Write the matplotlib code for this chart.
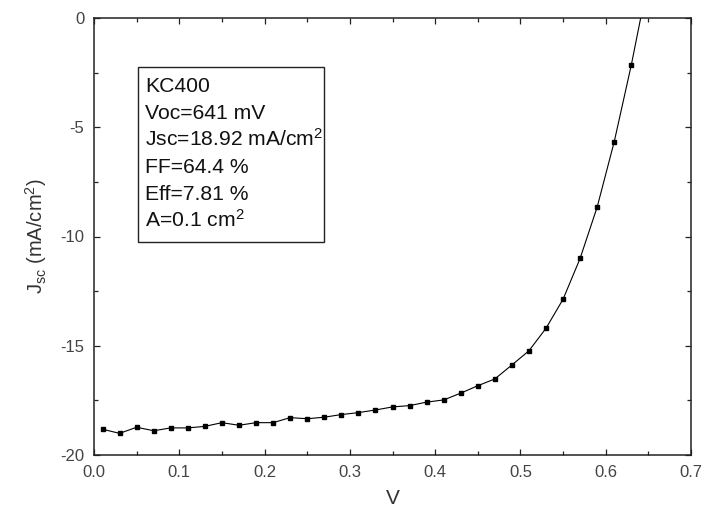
import matplotlib
matplotlib.use("Agg")
import matplotlib.pyplot as plt
from matplotlib.patches import Rectangle
from matplotlib.ticker import MultipleLocator

plt.rcParams['font.family'] = ['Liberation Sans', 'DejaVu Sans']
plt.rcParams['mathtext.fontset'] = 'custom'
plt.rcParams['mathtext.rm'] = 'Liberation Sans'
plt.rcParams['mathtext.it'] = 'Liberation Sans:italic'
plt.rcParams['axes.unicode_minus'] = False

# Measured J-V points (bias in V, current density in mA/cm^2)
voltage = [0.01, 0.03, 0.05, 0.07, 0.09, 0.11, 0.13, 0.15, 0.17, 0.19, 0.21,
           0.23, 0.25, 0.27, 0.29, 0.31, 0.33, 0.35, 0.37, 0.39, 0.41, 0.43,
           0.45, 0.47, 0.49, 0.51, 0.53, 0.55, 0.57, 0.59, 0.61, 0.63]
current = [-18.82, -19.01, -18.73, -18.89, -18.76, -18.76, -18.69, -18.52,
           -18.64, -18.52, -18.52, -18.29, -18.34, -18.27, -18.15, -18.06,
           -17.94, -17.80, -17.74, -17.58, -17.48, -17.17, -16.83, -16.52,
           -15.88, -15.23, -14.20, -12.87, -11.00, -8.65, -5.66, -2.15]

# Device parameters
sample = "KC400"
voc_mv = 641
jsc = 18.92
ff = 64.4
eff = 7.81
area = 0.1

x_ticks = [0.0, 0.1, 0.2, 0.3, 0.4, 0.5, 0.6, 0.7]
y_ticks = [0, -5, -10, -15, -20]

fig = plt.figure(figsize=(7.05, 5.12), dpi=100)
ax = fig.add_axes([94 / 705, 57 / 512, 597 / 705, 437 / 512])

# Curve through the measured points, closing at the open-circuit voltage
line_x = voltage + [voc_mv / 1000.0]
line_y = current + [0.0]
ax.plot(line_x, line_y, color='black', lw=0.8, zorder=2)
ax.plot(voltage, current, ls='none', marker='s', ms=3.4, color='black',
        mec='black', zorder=3)

ax.set_xlim(0.0, 0.7)
ax.set_ylim(-20, 0)
ax.set_xticks(x_ticks)
ax.set_xticklabels([f"{t:.1f}" for t in x_ticks])
ax.set_yticks(y_ticks)
ax.set_yticklabels([f"{t:d}" for t in y_ticks])
ax.xaxis.set_minor_locator(MultipleLocator(0.05))
ax.yaxis.set_minor_locator(MultipleLocator(2.5))

for s in ax.spines.values():
    s.set_linewidth(1.1)
    s.set_color('#222222')

ax.tick_params(which='both', direction='in', top=True, right=True,
               color='#222222', width=0.9)
ax.tick_params(which='major', length=4, labelsize=12,
               labelcolor='#444444', pad=7)
ax.tick_params(which='minor', length=3)

ax.set_xlabel("V", fontsize=15, color='#333333', labelpad=7)
ax.set_ylabel("J$_{\\mathrm{sc}}$ (mA/cm$^{2}$)", fontsize=14.5,
              color='#333333', labelpad=8)

# Parameter box
def fy(py):
    return (455 - py) / 437

box_left = (138.3 - 94) / 597
box_right = (324.3 - 94) / 597
box_top = fy(67.3)
box_bottom = fy(241.7)
ax.add_patch(Rectangle((box_left, box_bottom), box_right - box_left,
                       box_top - box_bottom, transform=ax.transAxes,
                       fill=False, edgecolor='#222222', lw=1.0, zorder=4))

lines = [
    sample,
    f"Voc={voc_mv} mV",
    f"Jsc={jsc:.2f} mA/cm$^{{2}}$",
    f"FF={ff:.1f} %",
    f"Eff={eff:.2f} %",
    f"A={area:g} cm$^{{2}}$",
]
text_x = (145 - 94) / 597
for i, txt in enumerate(lines):
    ax.text(text_x, fy(92.3 + 26.9 * i), txt, transform=ax.transAxes,
            fontsize=15.2, color='#111111', va='baseline', ha='left', zorder=5)

fig.savefig("out.png", dpi=100)
